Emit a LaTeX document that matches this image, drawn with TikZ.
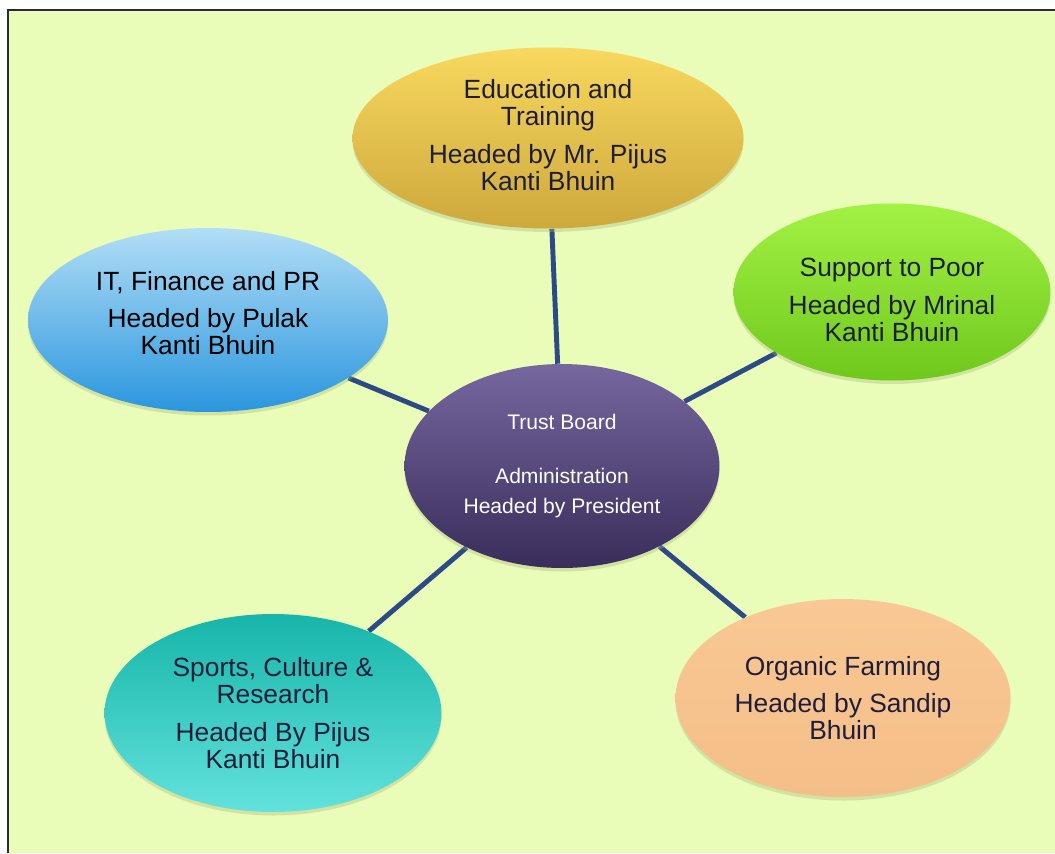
\documentclass[tikz,border=0pt]{standalone}
\usepackage{fontspec}
\setmainfont{Liberation Sans}
\usepackage{tikz}
\usetikzlibrary{shapes.geometric, backgrounds, shadows}

\definecolor{bgyellow}{HTML}{E9FCB8}
\definecolor{framegray}{HTML}{2A2A3A}
\definecolor{linkblue}{HTML}{2C4A86}
\definecolor{inktext}{HTML}{1E1E3C}
\definecolor{shadeolive}{HTML}{A8B478}
\definecolor{edutop}{HTML}{F8D85E}
\definecolor{edubot}{HTML}{CDA83C}
\definecolor{poortop}{HTML}{A2F244}
\definecolor{poorbot}{HTML}{6FC81C}
\definecolor{ittop}{HTML}{B2DEF6}
\definecolor{itbot}{HTML}{2A96DE}
\definecolor{trusttop}{HTML}{76679F}
\definecolor{trustbot}{HTML}{392D5A}
\definecolor{sporttop}{HTML}{17B5AA}
\definecolor{sportbot}{HTML}{62E2DC}
\definecolor{farmtop}{HTML}{F9C894}
\definecolor{farmbot}{HTML}{F4BE88}

\newcommand{\lift}[1]{\rule[-#1]{0pt}{#1}}
\newcommand{\drop}[1]{\rule{0pt}{#1}}

\tikzset{
    unit/.style={ellipse, inner sep=0pt, align=center, text=inktext,
        font=\fontsize{15}{15.4}\selectfont,
        drop shadow={shadow xshift=0pt, shadow yshift=-2pt, fill=shadeolive, opacity=0.35}},
    link/.style={line width=2.8pt, color=linkblue},
}

\begin{document}
\begin{tikzpicture}[x=0.02cm, y=-0.02cm]
            \useasboundingbox (0,0) rectangle (1055,853);

            \node[unit, top color=edutop, bottom color=edubot, minimum width=7.82cm, minimum height=3.62cm] at (548, 138) (edu)
                {Education and\\Training\\[6pt]Headed by Mr. Pijus\\Kanti Bhuin\lift{3.4pt}};
            \node[unit, top color=poortop, bottom color=poorbot, minimum width=6.34cm, minimum height=3.54cm] at (892, 292) (poor)
                {\drop{19.8pt}Support to Poor\\[6pt]Headed by Mrinal\\Kanti Bhuin};
            \node[unit, text=black, top color=ittop, bottom color=itbot, minimum width=7.2cm, minimum height=3.68cm] at (208, 320) (it)
                {IT, Finance and PR\\[6pt]Headed by Pulak\\Kanti Bhuin\lift{8pt}};
            \node[unit, text=white, font=\fontsize{12}{17}\selectfont, top color=trusttop, bottom color=trustbot, minimum width=6.3cm, minimum height=4.08cm] at (562, 466) (trust)
                {Trust Board\\[13.6pt]Administration\\Headed by President};
            \node[unit, top color=sporttop, bottom color=sportbot, minimum width=6.74cm, minimum height=3.96cm] at (273, 713) (sport)
                {Sports, Culture \&\\Research\\[6pt]Headed By Pijus\\Kanti Bhuin};
            \node[unit, top color=farmtop, bottom color=farmbot, minimum width=6.7cm, minimum height=3.96cm] at (843, 698) (farm)
                {Organic Farming\\[6pt]Headed by Sandip\\Bhuin};

            \begin{scope}[on background layer]
                \fill[bgyellow] (8, 10) rectangle (1055, 853);
                \draw[line width=1.3pt, framegray] (8, 853) -- (8, 10) -- (1055, 10);
                \draw[link] (edu) -- (trust);
                \draw[link] (poor) -- (trust);
                \draw[link] (it) -- (trust);
                \draw[link] (sport) -- (trust);
                \draw[link] (farm) -- (trust);
            \end{scope}
        \end{tikzpicture}
\end{document}
